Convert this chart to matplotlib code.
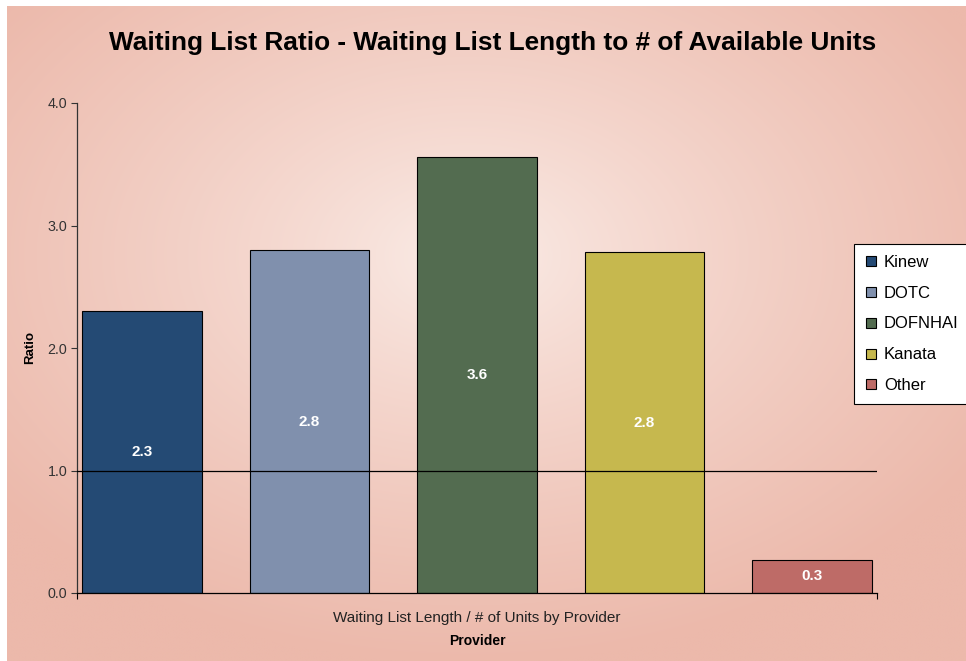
import numpy as np
import matplotlib
matplotlib.use("Agg")
import matplotlib.pyplot as plt
from matplotlib.lines import Line2D

providers = ["Kinew", "DOTC", "DOFNHAI", "Kanata", "Other"]
ratios = [2.30, 2.80, 3.56, 2.78, 0.27]
colors = ["#244a74", "#8090ad", "#536c50", "#c6b84e", "#be6b67"]
yticks = [0.0, 1.0, 2.0, 3.0, 4.0]
title = "Waiting List Ratio - Waiting List Length to # of Available Units"
xcat = "Waiting List Length / # of Units by Provider"

plt.rcParams['font.family'] = ['Liberation Sans', 'DejaVu Sans']

W, H = 966, 661
fig = plt.figure(figsize=(W / 100, H / 100), dpi=100, facecolor="white")

# background gradient
bg = fig.add_axes([7 / W, 0, 1 - 7 / W, 1 - 6 / H], zorder=-10)
ny, nx = 300, 440
yy, xx = np.mgrid[0:ny, 0:nx]
cx, cy = 0.48 * nx, 0.38 * ny
d = np.sqrt(((xx - cx) / (0.62 * nx)) ** 2 + ((yy - cy) / (0.62 * ny)) ** 2)
d = np.clip(d, 0, 1) ** 0.8
c0 = np.array([0xfb, 0xee, 0xe9]) / 255
c1 = np.array([0xec, 0xb9, 0xab]) / 255
img = c0[None, None, :] * (1 - d[..., None]) + c1[None, None, :] * d[..., None]
bg.imshow(img, aspect="auto", extent=[0, 1, 0, 1], origin="upper", interpolation="bilinear")
bg.set_xlim(0, 1)
bg.set_ylim(0, 1)
bg.axis("off")

ax = fig.add_axes([77 / W, 1 - 593 / H, 800 / W, 490 / H])
ax.patch.set_alpha(0)
x = np.arange(len(providers))
ax.bar(x, ratios, width=0.716, color=colors, edgecolor="black", linewidth=0.8, zorder=2)
for xi, v in zip(x, ratios):
    ax.text(xi, v / 2, f"{v:.1f}", ha="center", va="center", color="white",
            fontsize=11, fontweight="bold", zorder=4)
ax.axhline(1.0, color="black", linewidth=0.9, zorder=3)

ax.set_xlim(-0.388, 4.388)
ax.set_ylim(0, 4.0)
ax.set_yticks(yticks)
ax.set_yticklabels([f"{t:.1f}" for t in yticks], fontsize=10.3, color="#333333")
ax.tick_params(axis="y", direction="out", length=4, width=0.8, color="#333333", pad=3)
ax.set_xticks([-0.388, 4.388])
ax.set_xticklabels(["", ""])
ax.tick_params(axis="x", direction="out", length=4, width=0.8)
for s in ["top", "right"]:
    ax.spines[s].set_visible(False)
ax.spines["left"].set_color("#333333")
ax.spines["left"].set_linewidth(0.9)
ax.spines["bottom"].set_color("black")
ax.spines["bottom"].set_linewidth(0.9)

fig.text(477 / W, 1 - 618 / H, xcat, ha="center", va="center", fontsize=11, color="#222222")
fig.text(477 / W, 1 - 641 / H, "Provider", ha="center", va="center", fontsize=10,
         fontweight="bold", color="black")
fig.text(30 / W, 1 - 348 / H, "Ratio", ha="center", va="center", rotation=90,
         fontsize=9.5, fontweight="bold", color="black")
fig.text(493 / W, 1 - 43 / H, title, ha="center", va="center", fontsize=18.9,
         fontweight="bold", color="black")

handles = [Line2D([0], [0], marker="s", linestyle="none", markersize=6.5,
                  markerfacecolor=c, markeredgecolor="black", markeredgewidth=0.8)
           for c in colors]
leg = fig.legend(handles, providers, loc="upper left",
                 bbox_to_anchor=(854 / W, 1 - 244 / H), borderaxespad=0,
                 frameon=True, fancybox=False, edgecolor="black", framealpha=1,
                 facecolor="white", fontsize=12, labelspacing=0.95,
                 handlelength=0.7, handletextpad=0.45, borderpad=0.65)
leg.get_frame().set_linewidth(0.8)

fig.savefig("out.png", dpi=100, facecolor="white")
